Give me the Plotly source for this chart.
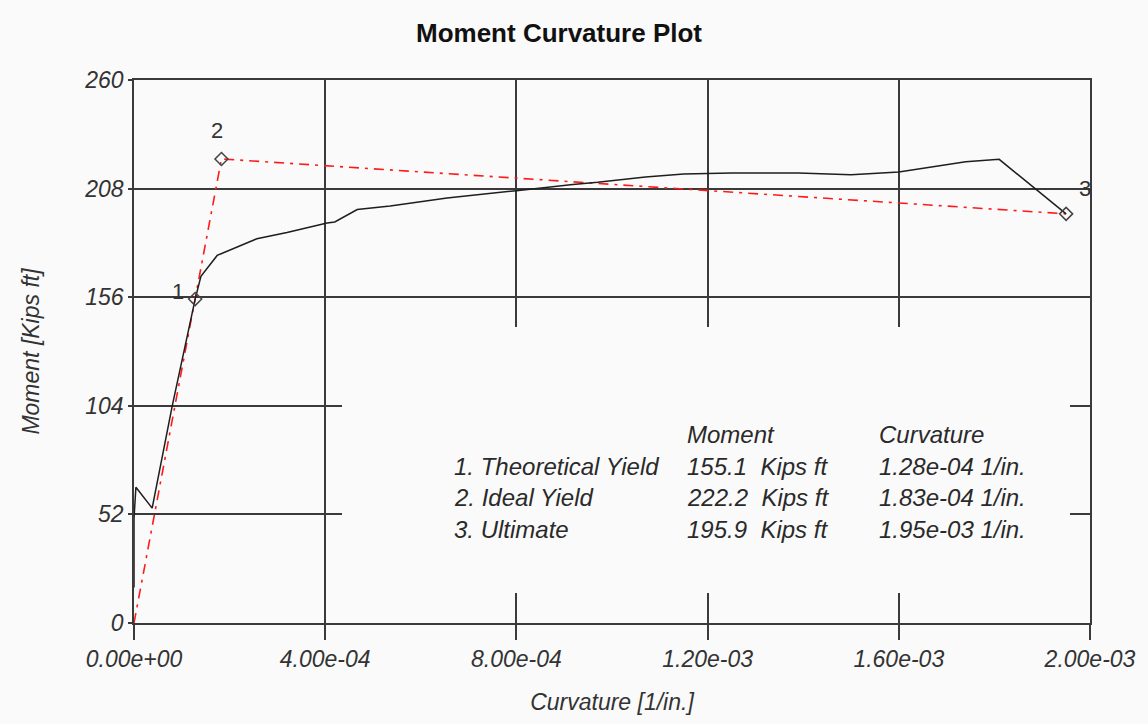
import plotly.graph_objects as go

# ---------------- data ----------------
curvature = [0.0, 0.0, 0.4e-5, 3.8e-5, 8.0e-5, 1.28e-4, 1.40e-4, 1.74e-4, 2.57e-4,
             3.20e-4, 4.04e-4, 4.20e-4, 4.67e-4, 5.36e-4, 6.55e-4, 7.66e-4, 8.00e-4,
             9.18e-4, 9.70e-4, 1.07e-3, 1.15e-3, 1.25e-3, 1.39e-3, 1.50e-3, 1.60e-3,
             1.74e-3, 1.81e-3, 1.95e-3]
moment = [17, 50, 65, 55, 104, 155.1, 166, 176, 184,
          187, 191.5, 192, 198, 199.7, 203.5, 206.4, 207,
          210, 211, 213.6, 215, 215.5, 215.5, 214.6, 216,
          220.8, 222, 195.9]

ideal_curv = [0.0, 1.83e-4, 1.95e-3]
ideal_mom = [0.0, 222.2, 195.9]

pt_labels = ["1", "2", "3"]
pt_names = ["1. Theoretical Yield", "2. Ideal Yield", "3. Ultimate"]
pt_curv = [1.28e-4, 1.83e-4, 1.95e-3]
pt_mom = [155.1, 222.2, 195.9]
pt_mom_txt = ["155.1  Kips ft", "222.2  Kips ft", "195.9  Kips ft"]
pt_curv_txt = ["1.28e-04 1/in.", "1.83e-04 1/in.", "1.95e-03 1/in."]

x_ticks = [0, 4e-4, 8e-4, 1.2e-3, 1.6e-3, 2e-3]
x_ticktext = ["0.00e+00", "4.00e-04", "8.00e-04", "1.20e-03", "1.60e-03", "2.00e-03"]
y_ticks = [0, 52, 104, 156, 208, 260]

# ---------------- layout geometry (pixels) ----------------
W, H = 1148, 724
L, R, T, B = 134, 1090, 80, 623
BG = "#fafafa"
LINE = "#3a3a3a"
FONT = "Liberation Sans, Arial, sans-serif"


def px(x):
    return (x - L) / (R - L)


def py(y):
    return (B - y) / (B - T)


fig = go.Figure()

fig.add_trace(go.Scatter(x=ideal_curv, y=ideal_mom, mode="lines",
                         line=dict(color="#ff1a1a", width=1.6, dash="10px,6px,3px,6px"),
                         showlegend=False, hoverinfo="skip"))
fig.add_trace(go.Scatter(x=curvature, y=moment, mode="lines",
                         line=dict(color="#1e1e1e", width=1.5),
                         showlegend=False, hoverinfo="skip"))
fig.add_trace(go.Scatter(x=pt_curv, y=pt_mom, mode="markers",
                         marker=dict(symbol="diamond-open", size=10, color="#444",
                                     line=dict(width=1.5, color="#444")),
                         showlegend=False, hoverinfo="skip"))

# point labels
offsets = [(-17, 8), (-4, 28), (19, 25)]
for lab, cx, cy, (dx, dy) in zip(pt_labels, pt_curv, pt_mom, offsets):
    fig.add_annotation(x=cx, y=cy, text=lab, showarrow=False, xshift=dx, yshift=dy,
                       font=dict(family=FONT, size=22, color="#333"))

# box that hides the grid behind the table (region holds no data marks)
fig.add_shape(type="rect", xref="paper", yref="paper",
              x0=px(342), x1=px(1070), y0=py(593), y1=py(327),
              fillcolor=BG, line=dict(width=0), layer="above")

# table
tfont = dict(family=FONT, size=24, color="#2a2a2a", style="italic")
col_x = [452, 685, 877]
row_y = [434, 466, 497, 529]
fig.add_annotation(xref="paper", yref="paper", x=px(col_x[1]), y=py(row_y[0]),
                   text="Moment", showarrow=False, xanchor="left", yanchor="middle", font=tfont)
fig.add_annotation(xref="paper", yref="paper", x=px(col_x[2]), y=py(row_y[0]),
                   text="Curvature", showarrow=False, xanchor="left", yanchor="middle", font=tfont)
for i in range(3):
    for c, txt in zip(col_x, [pt_names[i], pt_mom_txt[i], pt_curv_txt[i]]):
        fig.add_annotation(xref="paper", yref="paper", x=px(c), y=py(row_y[i + 1]),
                           text=txt.replace("  ", "&nbsp; "), showarrow=False,
                           xanchor="left", yanchor="middle", font=tfont)

# title
fig.add_annotation(xref="paper", yref="paper", x=px(559), y=py(33), text="<b>Moment Curvature Plot</b>",
                   showarrow=False, xanchor="center", yanchor="middle",
                   font=dict(family=FONT, size=26, color="#111"))

axis_font = dict(family=FONT, size=23, color="#333", style="italic")
fig.update_layout(
    width=W, height=H,
    margin=dict(l=L, r=W - R, t=T, b=H - B),
    paper_bgcolor=BG, plot_bgcolor=BG,
    xaxis=dict(range=[0, 2e-3], tickvals=x_ticks, ticktext=x_ticktext,
               showgrid=True, gridcolor=LINE, gridwidth=1.6,
               showline=True, linecolor=LINE, linewidth=1.6, mirror=True,
               ticks="outside", ticklen=15, tickcolor=LINE, tickwidth=1.6,
               zeroline=False, tickfont=axis_font,
               title=dict(text="Curvature [1/in.]", font=axis_font, standoff=22)),
    yaxis=dict(range=[0, 260], tickvals=y_ticks,
               showgrid=True, gridcolor=LINE, gridwidth=1.6,
               showline=True, linecolor=LINE, linewidth=1.6, mirror=True,
               ticks="outside", ticklen=4, tickcolor=LINE, tickwidth=1.6,
               zeroline=False, tickfont=axis_font,
               title=dict(text="Moment [Kips ft]", font=axis_font, standoff=38)),
)

fig.write_html("out.html")
